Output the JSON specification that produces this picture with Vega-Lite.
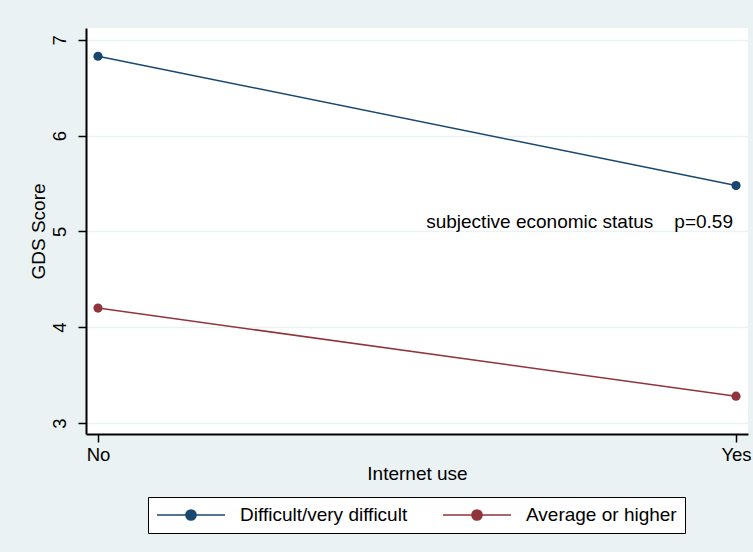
{
  "$schema": "https://vega.github.io/schema/vega-lite/v6.json",
  "autosize": {"type": "none"},
  "width": 662,
  "height": 406,
  "padding": {"left": 86, "top": 28, "right": 5, "bottom": 118},
  "background": "#EAF2F3",
  "config": {
    "view": {"fill": "white", "stroke": null},
    "font": "Liberation Sans",
    "axis": {"labelFont": "Liberation Sans", "titleFont": "Liberation Sans", "labelFontSize": 18.5, "titleFontSize": 19, "titleFontWeight": "normal", "labelColor": "black", "titleColor": "black"}
  },
  "data": {
    "values": [
      {"internet": "No", "score": 6.83, "status": "Difficult/very difficult"},
      {"internet": "Yes", "score": 5.48, "status": "Difficult/very difficult"},
      {"internet": "No", "score": 4.2, "status": "Average or higher"},
      {"internet": "Yes", "score": 3.28, "status": "Average or higher"}
    ]
  },
  "encoding": {
    "x": {
      "field": "internet", "type": "ordinal",
      "scale": {"type": "point", "padding": 0.0188, "domain": ["No", "Yes"]},
      "axis": {"title": "Internet use", "labelAngle": 0, "grid": false, "domainColor": "black", "domainWidth": 2, "tickColor": "black", "tickWidth": 1.5, "tickSize": 8, "labelPadding": 3, "titlePadding": 1}
    },
    "y": {
      "field": "score", "type": "quantitative",
      "scale": {"domain": [2.885, 7.125], "nice": false, "zero": false},
      "axis": {"title": "GDS Score", "values": [3, 4, 5, 6, 7], "labelAngle": 270, "labelAlign": "center", "labelBaseline": "bottom", "labelPadding": 9, "grid": true, "gridColor": "#EAF2F3", "gridWidth": 1.5, "domainColor": "black", "domainWidth": 2, "tickColor": "black", "tickWidth": 1.5, "tickSize": 8, "titlePadding": 2}
    },
    "color": {
      "field": "status", "type": "nominal",
      "scale": {"domain": ["Difficult/very difficult", "Average or higher"], "range": ["#1A476F", "#90353B"]},
      "legend": {
        "title": null, "orient": "none", "legendX": 62, "legendY": 469, "direction": "horizontal",
        "fillColor": "white", "strokeColor": "black", "padding": 8, "clipHeight": 20,
        "symbolType": "M-1,0L1,0M-0.15,0A0.15,0.15,0,1,0,0.15,0A0.15,0.15,0,1,0,-0.15,0",
        "symbolSize": 4624, "symbolStrokeWidth": 1.5, "symbolOpacity": 1,
        "labelFont": "Liberation Sans", "labelFontSize": 19, "labelColor": "black", "labelOffset": 14, "columnPadding": 34, "labelLimit": 300
      }
    }
  },
  "layer": [
    {"mark": {"type": "line", "strokeWidth": 1.5}},
    {"mark": {"type": "circle", "size": 85, "opacity": 1}},
    {
      "data": {"values": [{"internet": "Yes", "score": 5.1, "label": "subjective economic status\u00a0\u00a0\u00a0\u00a0p=0.59"}]},
      "mark": {"type": "text", "align": "right", "baseline": "middle", "dx": -3, "fontSize": 19, "font": "Liberation Sans", "color": "black"},
      "encoding": {"text": {"field": "label"}, "color": {"value": "black"}}
    }
  ]
}
